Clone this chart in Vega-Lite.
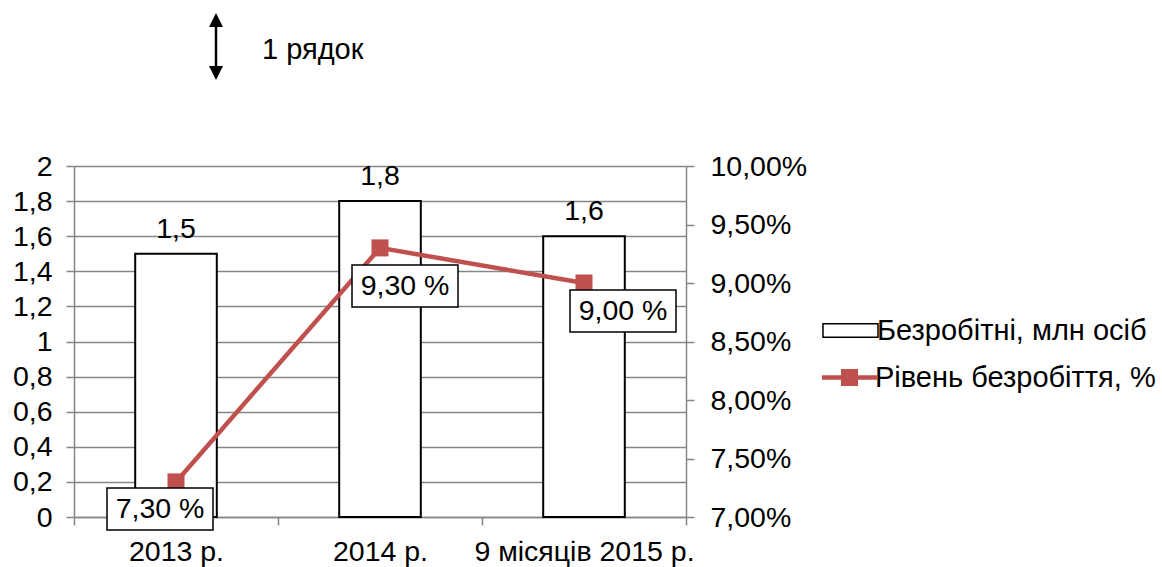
{
  "$schema": "https://vega.github.io/schema/vega-lite/v6.json",
  "width": 612,
  "height": 351,
  "autosize": {"type": "none"},
  "padding": {"left": 74, "top": 166, "right": 476, "bottom": 50},
  "background": "white",
  "config": {
    "locale": {"number": {"decimal": ",", "thousands": " ", "grouping": [3], "currency": ["", ""]}},
    "font": "Liberation Sans",
    "view": {"stroke": null}
  },
  "data": {
    "values": [
      {"cat": "2013 р.", "unemployed": 1.5, "rate": 0.073},
      {"cat": "2014 р.", "unemployed": 1.8, "rate": 0.093},
      {"cat": "9 місяців 2015 р.", "unemployed": 1.6, "rate": 0.09}
    ]
  },
  "encoding": {
    "x": {
      "field": "cat",
      "type": "nominal",
      "sort": null,
      "scale": {"paddingInner": 0, "paddingOuter": 0},
      "axis": {
        "title": null,
        "labelAngle": 0,
        "labelFont": "Liberation Sans",
        "labelFontSize": 28.5,
        "labelColor": "black",
        "labelPadding": 12,
        "labelLimit": 400,
        "labelOverlap": false,
        "domainColor": "#868686",
        "domainWidth": 1.5,
        "tickColor": "#868686",
        "tickWidth": 1.5,
        "tickSize": 8,
        "tickBand": "extent"
      }
    }
  },
  "layer": [
    {
      "encoding": {
        "y": {
          "field": "unemployed",
          "type": "quantitative",
          "scale": {"domain": [0, 2]},
          "axis": {
            "title": null,
            "values": [0, 0.2, 0.4, 0.6, 0.8, 1, 1.2, 1.4, 1.6, 1.8, 2],
            "format": "~g",
            "grid": true,
            "gridColor": "#868686",
            "gridWidth": 1.5,
            "domainColor": "#868686",
            "domainWidth": 1.5,
            "tickColor": "#868686",
            "tickWidth": 1.5,
            "tickSize": 8,
            "labelPadding": 14,
            "labelFont": "Liberation Sans",
            "labelFontSize": 28.5,
            "labelColor": "black"
          }
        }
      },
      "layer": [
        {
          "mark": {"type": "bar", "fill": "white", "strokeWidth": 2, "opacity": 1, "width": {"band": 0.4}},
          "encoding": {
            "stroke": {
              "datum": "Безробітні, млн осіб",
              "scale": {"domain": ["Безробітні, млн осіб"], "range": ["black"]},
              "legend": {
                "orient": "none",
                "legendX": 748,
                "legendY": 136,
                "title": null,
                "symbolType": "M-1,-0.245H1V0.245H-1Z",
                "symbolSize": 3025,
                "symbolFillColor": "white",
                "symbolStrokeColor": "black",
                "symbolStrokeWidth": 1.5,
                "symbolOpacity": 1,
                "labelFont": "Liberation Sans",
                "labelFontSize": 29,
                "labelColor": "black",
                "labelOffset": -2,
                "labelLimit": 400
              }
            }
          }
        },
        {
          "mark": {"type": "text", "baseline": "alphabetic", "dy": -16, "fontSize": 28.5, "font": "Liberation Sans", "color": "black"},
          "encoding": {"text": {"field": "unemployed", "type": "quantitative", "format": "~g"}}
        },
        {
          "transform": [{"filter": "datum.cat === '2013 р.'"}],
          "mark": {"type": "text", "text": "1 рядок", "align": "left", "baseline": "middle", "dx": 86, "fontSize": 29, "font": "Liberation Sans", "color": "black"},
          "encoding": {
            "y": {"datum": 2.661}
          }
        },
        {
          "transform": [{"filter": "datum.cat === '2013 р.'"}],
          "mark": {"type": "rule", "strokeWidth": 2.5, "color": "black", "xOffset": 40},
          "encoding": {
            "y": {"datum": 2.832},
            "y2": {"datum": 2.53}
          }
        },
        {
          "transform": [{"filter": "datum.cat === '2013 р.'"}],
          "mark": {"type": "point", "shape": "M0,-1L1,1H-1Z", "size": 196, "filled": true, "color": "black", "opacity": 1, "xOffset": 40},
          "encoding": {
            "y": {"datum": 2.832}
          }
        },
        {
          "transform": [{"filter": "datum.cat === '2013 р.'"}],
          "mark": {"type": "point", "shape": "M0,1L1,-1H-1Z", "size": 196, "filled": true, "color": "black", "opacity": 1, "xOffset": 40},
          "encoding": {
            "y": {"datum": 2.53}
          }
        }
      ]
    },
    {
      "encoding": {
        "y": {
          "field": "rate",
          "type": "quantitative",
          "scale": {"domain": [0.07, 0.1]},
          "axis": {
            "orient": "right",
            "title": null,
            "values": [0.07, 0.075, 0.08, 0.085, 0.09, 0.095, 0.1],
            "format": ".2%",
            "grid": false,
            "domainColor": "#868686",
            "domainWidth": 1.5,
            "tickColor": "#868686",
            "tickWidth": 1.5,
            "tickSize": 8,
            "labelPadding": 16,
            "labelFont": "Liberation Sans",
            "labelFontSize": 28.5,
            "labelColor": "black"
          }
        }
      },
      "layer": [
        {
          "mark": {"type": "line", "strokeWidth": 4.5, "color": "#c0504d"}
        },
        {
          "mark": {"type": "point", "shape": "square", "size": 289, "filled": true, "opacity": 1},
          "encoding": {
            "fill": {
              "datum": "Рівень безробіття, %",
              "scale": {"domain": ["Рівень безробіття, %"], "range": ["#c0504d"]},
              "legend": {
                "orient": "none",
                "legendX": 748,
                "legendY": 184,
                "title": null,
                "symbolType": "M-1,-0.082H1V0.082H-1Z M-0.31,-0.31H0.31V0.31H-0.31Z",
                "symbolSize": 3025,
                "symbolStrokeWidth": 0,
                "symbolOpacity": 1,
                "labelFont": "Liberation Sans",
                "labelFontSize": 29,
                "labelColor": "black",
                "labelOffset": -2,
                "labelLimit": 400
              }
            }
          }
        },
        {
          "mark": {
            "type": "point",
            "shape": "M-1,-0.396H1V0.396H-1Z",
            "size": 11236,
            "filled": true,
            "fill": "white",
            "stroke": "black",
            "strokeWidth": 1.5,
            "opacity": 1,
            "xOffset": {"expr": "datum.rate < 0.08 ? -16 : datum.rate > 0.092 ? 25 : 39"},
            "yOffset": {"expr": "datum.rate < 0.08 ? 27 : datum.rate > 0.092 ? 38 : 28"}
          }
        },
        {
          "transform": [{"calculate": "replace(format(datum.rate * 100, '.2f'), '.', ',') + ' %'", "as": "label"}],
          "mark": {
            "type": "text",
            "align": "center",
            "baseline": "middle",
            "fontSize": 28.5,
            "font": "Liberation Sans",
            "color": "black",
            "dx": {"expr": "datum.rate < 0.08 ? -16 : datum.rate > 0.092 ? 25 : 39"},
            "dy": {"expr": "datum.rate < 0.08 ? 27 : datum.rate > 0.092 ? 38 : 28"}
          },
          "encoding": {"text": {"field": "label"}}
        }
      ]
    }
  ],
  "resolve": {"scale": {"y": "independent"}}
}
